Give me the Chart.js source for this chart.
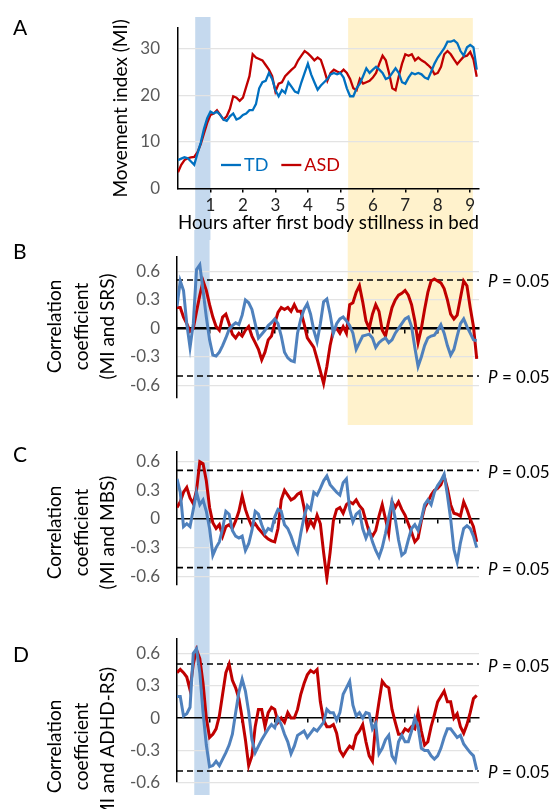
<!DOCTYPE html>
<html>
<head>
<meta charset="utf-8">
<title>Movement index and correlation coefficients</title>
<script src="https://cdn.jsdelivr.net/npm/chart.js@4.4.0/dist/chart.umd.min.js"></script>
<style>
    html, body { margin: 0; padding: 0; background: #fff; }
    #figure { position: relative; width: 554px; height: 809px; overflow: hidden; font-family: Lato, sans-serif; }
    #figure canvas { position: absolute; left: 0; }
    .panel-letter { position: absolute; left: 13px; font-size: 21px; line-height: 1; color: #000; z-index: 3; }
</style>
</head>
<body>
<div id="figure">
    <canvas id="chartB" width="554" height="195" style="top:230px"></canvas>
    <canvas id="chartC" width="554" height="187" style="top:425px"></canvas>
    <canvas id="chartD" width="554" height="197" style="top:612px"></canvas>
    <canvas id="chartA" width="554" height="240" style="top:0; z-index:2"></canvas>
    <div class="panel-letter" style="top:16px">A</div>
    <div class="panel-letter" style="top:240px">B</div>
    <div class="panel-letter" style="top:443px">C</div>
    <div class="panel-letter" style="top:643px">D</div>
</div>
<script>
// ---- data: one sample every 0.1 h, from 0 to 9.2 h ----
const TD_MI = [
    6.1, 6.4, 6.7, 6.5, 5.8, 5.1, 7.5, 9.8, 12.8, 15.1,
    16.5, 16.1, 16.5, 15.8, 14.8, 14.5, 15.5, 16.1, 14.8, 15.1,
    15.8, 16.1, 16.8, 16.8, 18.1, 21.5, 22.8, 23.1, 24.8, 23.5,
    21.1, 19.8, 21.1, 20.5, 22.8, 21.8, 20.8, 20.5, 22.8, 24.8,
    26.8, 24.5, 22.8, 21.2, 22.1, 22.8, 23.5, 24.5, 24.8, 24.5,
    24.8, 23.8, 21.5, 19.8, 19.8, 21.5, 22.5, 24.1, 25.8, 24.8,
    25.5, 26.1, 25.5, 24.8, 23.5, 23.8, 24.8, 25.8, 24.8, 22.8,
    22.5, 23.8, 24.8, 24.5, 24.8, 24.5, 23.8, 23.5, 25.1, 26.8,
    28.1, 29.1, 30.1, 31.5, 31.5, 31.8, 31.2, 29.5, 28.5, 30.3,
    30.8, 30.3, 25.5
];
const ASD_MI = [
    3.5, 5.1, 6.1, 6.5, 6.7, 6.8, 7.8, 9.5, 11.8, 14.1,
    15.8, 16.1, 16.8, 15.8, 14.8, 15.5, 17.1, 19.8, 19.5, 18.8,
    19.5, 21.8, 24.1, 28.8, 28.1, 27.8, 27.5, 26.5, 25.5, 24.1,
    20.8, 22.5, 22.8, 24.1, 24.8, 25.5, 26.1, 27.5, 28.5, 29.5,
    29.0, 28.3, 27.5, 28.1, 27.6, 25.5, 23.1, 24.8, 25.5, 25.1,
    24.8, 25.5, 24.8, 23.5, 21.5, 21.1, 23.5, 22.5, 22.8, 23.1,
    23.8, 24.8, 26.8, 28.5, 27.5, 24.8, 21.5, 21.1, 24.1, 26.8,
    28.8, 28.5, 28.8, 27.5, 28.1, 27.5, 27.1, 26.5, 25.8, 24.5,
    24.8, 26.1, 28.8, 29.5, 28.8, 27.7, 26.7, 27.5, 28.3, 28.5,
    29.3, 27.7, 24.0
];
const TD_SRS = [
    0.23, 0.50, 0.40, 0.05, -0.20, 0.05, 0.62, 0.67, 0.40, 0.12,
    -0.12, -0.28, -0.29, -0.25, -0.18, -0.10, -0.01, 0.03, 0.06, 0.04,
    0.14, 0.30, 0.27, 0.20, 0.05, -0.10, -0.06, -0.02, 0.03, 0.06,
    0.10, 0.05, -0.08, -0.25, -0.31, -0.34, -0.35, -0.05, 0.10, 0.20,
    0.26, 0.15, -0.02, -0.14, 0.05, 0.28, 0.31, 0.15, -0.05, 0.05,
    0.10, 0.12, 0.08, 0.03, -0.05, -0.22, -0.15, -0.08, -0.07, -0.06,
    -0.10, -0.20, -0.15, -0.12, -0.10, -0.15, -0.12, -0.05, 0.00, 0.05,
    0.10, 0.12, 0.02, -0.20, -0.40, -0.30, -0.18, -0.10, -0.08, -0.07,
    -0.02, 0.04, -0.05, -0.18, -0.28, -0.22, -0.08, 0.05, 0.10, 0.02,
    -0.05, -0.12, -0.13
];
const ASD_SRS = [
    0.22, 0.22, 0.12, 0.05, -0.03, 0.00, 0.18, 0.35, 0.50, 0.40,
    0.25, 0.12, 0.02, -0.02, 0.12, 0.15, 0.05, -0.06, -0.10, -0.05,
    -0.08, -0.02, 0.02, -0.08, -0.15, -0.22, -0.33, -0.25, -0.12, -0.08,
    0.05, 0.17, 0.22, 0.20, 0.22, 0.18, 0.25, 0.18, 0.18, 0.05,
    -0.10, -0.15, -0.20, -0.32, -0.45, -0.58, -0.40, -0.18, -0.02, 0.00,
    -0.05, 0.02, -0.05, 0.25, 0.27, 0.38, 0.45, 0.28, 0.08, 0.00,
    0.15, 0.25, 0.18, -0.02, -0.08, 0.08, 0.22, 0.30, 0.35, 0.37,
    0.40, 0.35, 0.25, 0.08, -0.15, 0.00, 0.20, 0.38, 0.50, 0.52,
    0.50, 0.48, 0.42, 0.30, 0.15, 0.10, 0.14, 0.32, 0.50, 0.45,
    0.22, 0.02, -0.32
];
const TD_MBS = [
    0.42, 0.28, -0.08, -0.05, -0.08, 0.10, 0.28, 0.15, 0.20, 0.08,
    -0.10, -0.38, -0.30, -0.24, -0.10, 0.08, 0.05, -0.12, -0.18, -0.20,
    -0.18, -0.33, -0.26, -0.12, 0.08, 0.05, -0.06, -0.15, -0.10, -0.12,
    0.02, 0.10, 0.08, -0.06, -0.10, -0.18, -0.28, -0.35, -0.15, 0.02,
    0.14, 0.10, 0.28, 0.25, 0.32, 0.40, 0.45, 0.36, 0.32, 0.28,
    0.25, 0.38, 0.42, 0.10, -0.03, 0.05, 0.08, -0.10, -0.20, -0.12,
    -0.24, -0.33, -0.40, -0.30, -0.15, 0.02, 0.18, 0.00, -0.22, -0.38,
    -0.35, -0.22, -0.10, -0.06, -0.12, 0.00, 0.15, 0.20, 0.15, 0.28,
    0.35, 0.40, 0.47, 0.25, 0.00, -0.32, -0.45, -0.25, -0.10, -0.07,
    -0.10, -0.18, -0.30
];
const ASD_MBS = [
    0.12, 0.18, 0.28, 0.33, 0.22, 0.16, 0.30, 0.60, 0.58, 0.40,
    0.12, -0.04, -0.10, -0.06, -0.18, -0.08, -0.06, -0.10, -0.02, 0.08,
    0.24, 0.10, 0.00, -0.08, -0.05, -0.10, -0.14, -0.18, -0.21, -0.23,
    -0.24, -0.10, 0.20, 0.30, 0.25, 0.20, 0.22, 0.26, 0.28, 0.12,
    -0.10, -0.02, -0.08, 0.04, -0.05, -0.35, -0.62, -0.35, -0.02, 0.10,
    0.12, 0.06, 0.15, 0.18, 0.16, 0.20, 0.14, 0.10, -0.02, -0.14,
    -0.18, -0.12, 0.03, 0.15, 0.00, -0.15, 0.18, 0.12, 0.18, 0.10,
    0.04, -0.05, -0.14, -0.24, -0.20, -0.02, 0.12, 0.18, 0.25, 0.30,
    0.32, 0.36, 0.45, 0.32, 0.15, 0.06, 0.05, 0.03, 0.18, 0.10,
    0.00, -0.08, -0.24
];
const TD_ADHD = [
    0.20, 0.20, 0.02, 0.04, 0.10, 0.60, 0.64, 0.42, 0.05, -0.25,
    -0.45, -0.44, -0.40, -0.44, -0.38, -0.32, -0.25, -0.15, 0.05, 0.24,
    0.36, 0.25, 0.06, -0.20, -0.32, -0.26, -0.20, -0.15, -0.10, -0.06,
    -0.09, 0.00, -0.06, -0.15, -0.22, -0.33, -0.26, -0.16, -0.14, -0.12,
    -0.18, -0.14, -0.10, -0.12, -0.08, -0.04, 0.08, 0.05, 0.05, -0.02,
    0.05, 0.22, 0.28, 0.34, 0.12, 0.02, 0.05, 0.00, 0.05, 0.04,
    -0.10, -0.05, -0.33, -0.28, -0.20, -0.16, -0.35, -0.40, -0.22, -0.16,
    -0.22, -0.22, -0.12, 0.00, -0.08, -0.28, -0.30, -0.30, -0.35, -0.38,
    -0.35, -0.28, -0.18, -0.10, -0.10, -0.14, -0.18, -0.16, -0.24, -0.28,
    -0.32, -0.35, -0.48
];
const ASD_ADHD = [
    0.42, 0.45, 0.42, 0.38, 0.26, 0.50, 0.63, 0.55, 0.32, 0.00,
    -0.18, -0.15, -0.10, 0.02, 0.22, 0.42, 0.50, 0.35, 0.28, 0.18,
    0.00, -0.20, -0.44, -0.35, -0.08, 0.08, 0.08, -0.08, 0.05, 0.10,
    0.08, -0.04, 0.00, -0.04, 0.05, 0.00, 0.00, 0.08, 0.22, 0.32,
    0.40, 0.44, 0.42, 0.45, 0.15, -0.02, -0.08, -0.08, -0.06, -0.14,
    -0.30, -0.35, -0.30, -0.26, -0.28, -0.16, -0.12, -0.06, -0.22, -0.35,
    -0.40, -0.05, 0.15, 0.34, 0.30, 0.28, 0.08, -0.04, -0.15, -0.15,
    -0.10, -0.12, -0.08, -0.10, 0.05, -0.12, -0.25, -0.22, -0.08, 0.03,
    0.15, 0.20, 0.25, 0.15, 0.15, 0.00, 0.04, -0.08, -0.14, -0.06,
    0.05, 0.18, 0.21
];

// time axis (hours) of the samples above
const HOURS = TD_MI.map((_, i) => i / 10);

// tick labels
const HOUR_TICKS = [1, 2, 3, 4, 5, 6, 7, 8, 9];
const MI_TICKS = [0, 10, 20, 30];
const CORR_TICKS = [-0.6, -0.3, 0, 0.3, 0.6];

// P = 0.05 critical values per panel [upper, lower]
const P_SRS = [0.51, -0.50];
const P_MBS = [0.51, -0.51];
const P_ADHD = [0.50, -0.49];

// shaded periods (hours)
const EARLY_PERIOD = [0.53, 1.0];
const LATE_PERIOD = [5.24, 9.08];

const X_MAX = 9.27;

// ---- style ----
Chart.defaults.font.family = 'Lato, sans-serif';
Chart.defaults.color = '#595959';

const BLUE_BAND = '#c5d9ee';
const YELLOW_BAND = '#fff2cc';
const GRID = '#e3e3e3';

/**
 * Shaded periods, painted before grid and lines
 */
const bandPlugin = {
    id: 'bands',
    beforeDraw(chart, args, opts) {
        const { ctx } = chart;
        const x = chart.scales.x;
        (opts.items || []).forEach(b => {
            const x1 = x.getPixelForValue(b.from);
            const x2 = x.getPixelForValue(b.to);
            ctx.save();
            ctx.fillStyle = b.color;
            ctx.fillRect(x1, b.top, x2 - x1, b.bottom - b.top);
            ctx.restore();
        });
    }
};

/**
 * Three-line rotated title of the correlation panels (centre can sit below the plot centre)
 */
const sideTitlePlugin = {
    id: 'sideTitle',
    afterDraw(chart, args, opts) {
        if (!opts.lines) return;
        const { ctx, chartArea } = chart;
        const cy = (chartArea.top + chartArea.bottom) / 2 + opts.dy;
        ctx.save();
        ctx.font = '19px Lato, sans-serif';
        ctx.fillStyle = '#000';
        ctx.textAlign = 'center';
        ctx.textBaseline = 'middle';
        opts.lines.forEach((line, i) => {
            ctx.save();
            ctx.translate(opts.x + i * opts.gap, cy);
            ctx.rotate(-Math.PI / 2);
            ctx.fillText(line, 0, 0);
            ctx.restore();
        });
        ctx.restore();
    }
};

/**
 * "P = 0.05" at the right end of each dashed line
 */
const pLabelPlugin = {
    id: 'pLabels',
    afterDatasetsDraw(chart) {
        const { ctx } = chart;
        chart.data.datasets.forEach(ds => {
            if (!ds.pLabel) return;
            const y = chart.scales.y.getPixelForValue(ds.data[0].y) + 2;
            const x = 488;
            ctx.save();
            ctx.fillStyle = '#000';
            ctx.textBaseline = 'middle';
            ctx.font = 'italic 17px Lato, sans-serif';
            ctx.fillText('P', x, y);
            const w = ctx.measureText('P').width;
            ctx.font = '17px Lato, sans-serif';
            ctx.fillText(' = 0.05', x + w, y);
            ctx.restore();
        });
    }
};

/**
 * Legend written inside the plot, text in the series colour
 */
const inlineLegendPlugin = {
    id: 'inlineLegend',
    afterDatasetsDraw(chart, args, opts) {
        if (!opts.show) return;
        const { ctx } = chart;
        let x = opts.x;
        const y = opts.y;
        ctx.save();
        ctx.font = '18px Lato, sans-serif';
        ctx.textBaseline = 'middle';
        chart.data.datasets.forEach(ds => {
            if (!ds.inLegend) return;
            ctx.strokeStyle = ds.borderColor;
            ctx.lineWidth = 2.3;
            ctx.beginPath();
            ctx.moveTo(x, y);
            ctx.lineTo(x + 20, y);
            ctx.stroke();
            x += 23;
            ctx.fillStyle = ds.borderColor;
            ctx.fillText(ds.label, x, y);
            x += ctx.measureText(ds.label).width + 13;
        });
        ctx.restore();
    }
};

function series(label, values, color, width) {
    return {
        label: label,
        data: values.map((v, i) => ({ x: HOURS[i], y: v })),
        borderColor: color,
        borderWidth: width,
        pointRadius: 0,
        tension: 0,
        fill: false,
        inLegend: true
    };
}

function pLine(value) {
    return {
        label: 'P = 0.05',
        data: [{ x: 0, y: value }, { x: X_MAX, y: value }],
        borderColor: '#000',
        borderWidth: 1.6,
        borderDash: [6, 4],
        pointRadius: 0,
        pLabel: true
    };
}

/**
 * Build one panel; all panels share the same hour axis
 */
function buildPanel(canvasId, cfg) {
    const ctx = document.getElementById(canvasId);
    const mainPanel = !cfg.axisAtZero;

    return new Chart(ctx, {
        type: 'line',
        data: { datasets: cfg.datasets },
        plugins: [bandPlugin, sideTitlePlugin, pLabelPlugin, inlineLegendPlugin],
        options: {
            responsive: false,
            animation: false,
            events: [],
            layout: { padding: cfg.padding },
            plugins: {
                legend: { display: false },
                tooltip: { enabled: false },
                bands: { items: cfg.bands },
                sideTitle: cfg.sideTitle || {},
                inlineLegend: cfg.legend || { show: false }
            },
            scales: {
                x: {
                    type: 'linear',
                    min: 0,
                    max: X_MAX,
                    position: mainPanel ? 'bottom' : { y: 0 },
                    afterBuildTicks: s => { s.ticks = HOUR_TICKS.map(v => ({ value: v })); },
                    afterFit: s => { if (mainPanel) s.height = 51.5; },
                    grid: {
                        drawOnChartArea: false,
                        drawTicks: true,
                        tickLength: 4,
                        color: '#000',
                        lineWidth: 1.5
                    },
                    border: { color: '#000', width: cfg.zeroWidth },
                    ticks: {
                        display: mainPanel,
                        padding: 3,
                        color: '#222',
                        font: { size: 17 },
                        maxRotation: 0,
                        autoSkip: false
                    },
                    title: {
                        display: mainPanel,
                        text: 'Hours after first body stillness in bed',
                        color: '#000',
                        font: { size: 19, lineHeight: 1.2 },
                        padding: { top: 0, bottom: 5.6 }
                    }
                },
                y: {
                    min: cfg.yMin,
                    max: cfg.yMax,
                    afterBuildTicks: s => { s.ticks = cfg.yTicks.map(v => ({ value: v })); },
                    afterFit: s => { s.width = cfg.yWidth; },
                    grid: {
                        color: c => (c.tick && c.tick.value === 0) ? 'rgba(0,0,0,0)' : GRID,
                        lineWidth: 1.2,
                        drawTicks: false
                    },
                    border: { color: '#000', width: 1.5 },
                    ticks: {
                        padding: cfg.yWidth - 160,
                        color: '#595959',
                        font: { size: 17 },
                        callback: v => String(v)
                    },
                    title: {
                        display: !!cfg.yTitle,
                        text: cfg.yTitle || '',
                        color: '#000',
                        font: { size: 19, lineHeight: 1.2 },
                        padding: { top: 109.6, bottom: 0 }
                    }
                }
            }
        }
    });
}

function corrTitle(lastLine, dy) {
    return { lines: ['Correlation', 'coefficient', lastLine], x: 55, gap: 26.6, dy: dy };
}

// A: movement index
buildPanel('chartA', {
    datasets: [
        series('TD', TD_MI, '#0070c0', 2.3),
        series('ASD', ASD_MI, '#c00000', 2.3)
    ],
    padding: { top: 16, right: 75, bottom: 0, left: 0 },
    yMin: 0, yMax: 34.4, yTicks: MI_TICKS, yWidth: 178,
    yTitle: 'Movement index (MI)',
    zeroWidth: 1.5,
    bands: [
        { from: EARLY_PERIOD[0], to: EARLY_PERIOD[1], color: BLUE_BAND, top: 17, bottom: 240 },
        { from: LATE_PERIOD[0], to: LATE_PERIOD[1], color: YELLOW_BAND, top: 18, bottom: 240 }
    ],
    legend: { show: true, x: 221, y: 165 }
});

// B: MI and SRS
buildPanel('chartB', {
    datasets: [
        series('TD', TD_SRS, '#4f81bd', 3),
        series('ASD', ASD_SRS, '#c00000', 3),
        pLine(P_SRS[0]), pLine(P_SRS[1])
    ],
    padding: { top: 10, right: 75, bottom: 8, left: 0 },
    yMin: -0.73, yMax: 0.75, yTicks: CORR_TICKS, yWidth: 177,
    sideTitle: corrTitle('(MI and SRS)', -1),
    axisAtZero: true,
    zeroWidth: 2.5,
    bands: [
        { from: EARLY_PERIOD[0], to: EARLY_PERIOD[1], color: BLUE_BAND, top: 0, bottom: 195 },
        { from: LATE_PERIOD[0], to: LATE_PERIOD[1], color: YELLOW_BAND, top: 0, bottom: 195 }
    ]
});

// C: MI and MBS
buildPanel('chartC', {
    datasets: [
        series('TD', TD_MBS, '#4f81bd', 3),
        series('ASD', ASD_MBS, '#c00000', 3),
        pLine(P_MBS[0]), pLine(P_MBS[1])
    ],
    padding: { top: 5, right: 75, bottom: 17, left: 0 },
    yMin: -0.69, yMax: 0.70, yTicks: CORR_TICKS, yWidth: 177,
    sideTitle: corrTitle('(MI and MBS)', 14),
    axisAtZero: true,
    zeroWidth: 1.5,
    bands: [
        { from: EARLY_PERIOD[0], to: EARLY_PERIOD[1], color: BLUE_BAND, top: 0, bottom: 187 }
    ]
});

// D: MI and ADHD-RS
buildPanel('chartD', {
    datasets: [
        series('TD', TD_ADHD, '#4f81bd', 3),
        series('ASD', ASD_ADHD, '#c00000', 3),
        pLine(P_ADHD[0]), pLine(P_ADHD[1])
    ],
    padding: { top: 9.7, right: 75, bottom: 24, left: 0 },
    yMin: -0.59, yMax: 0.73, yTicks: CORR_TICKS, yWidth: 177,
    sideTitle: corrTitle('(MI and ADHD-RS)', 36),
    axisAtZero: true,
    zeroWidth: 1.5,
    bands: [
        { from: EARLY_PERIOD[0], to: EARLY_PERIOD[1], color: BLUE_BAND, top: 0, bottom: 183 }
    ]
});
</script>
</body>
</html>
